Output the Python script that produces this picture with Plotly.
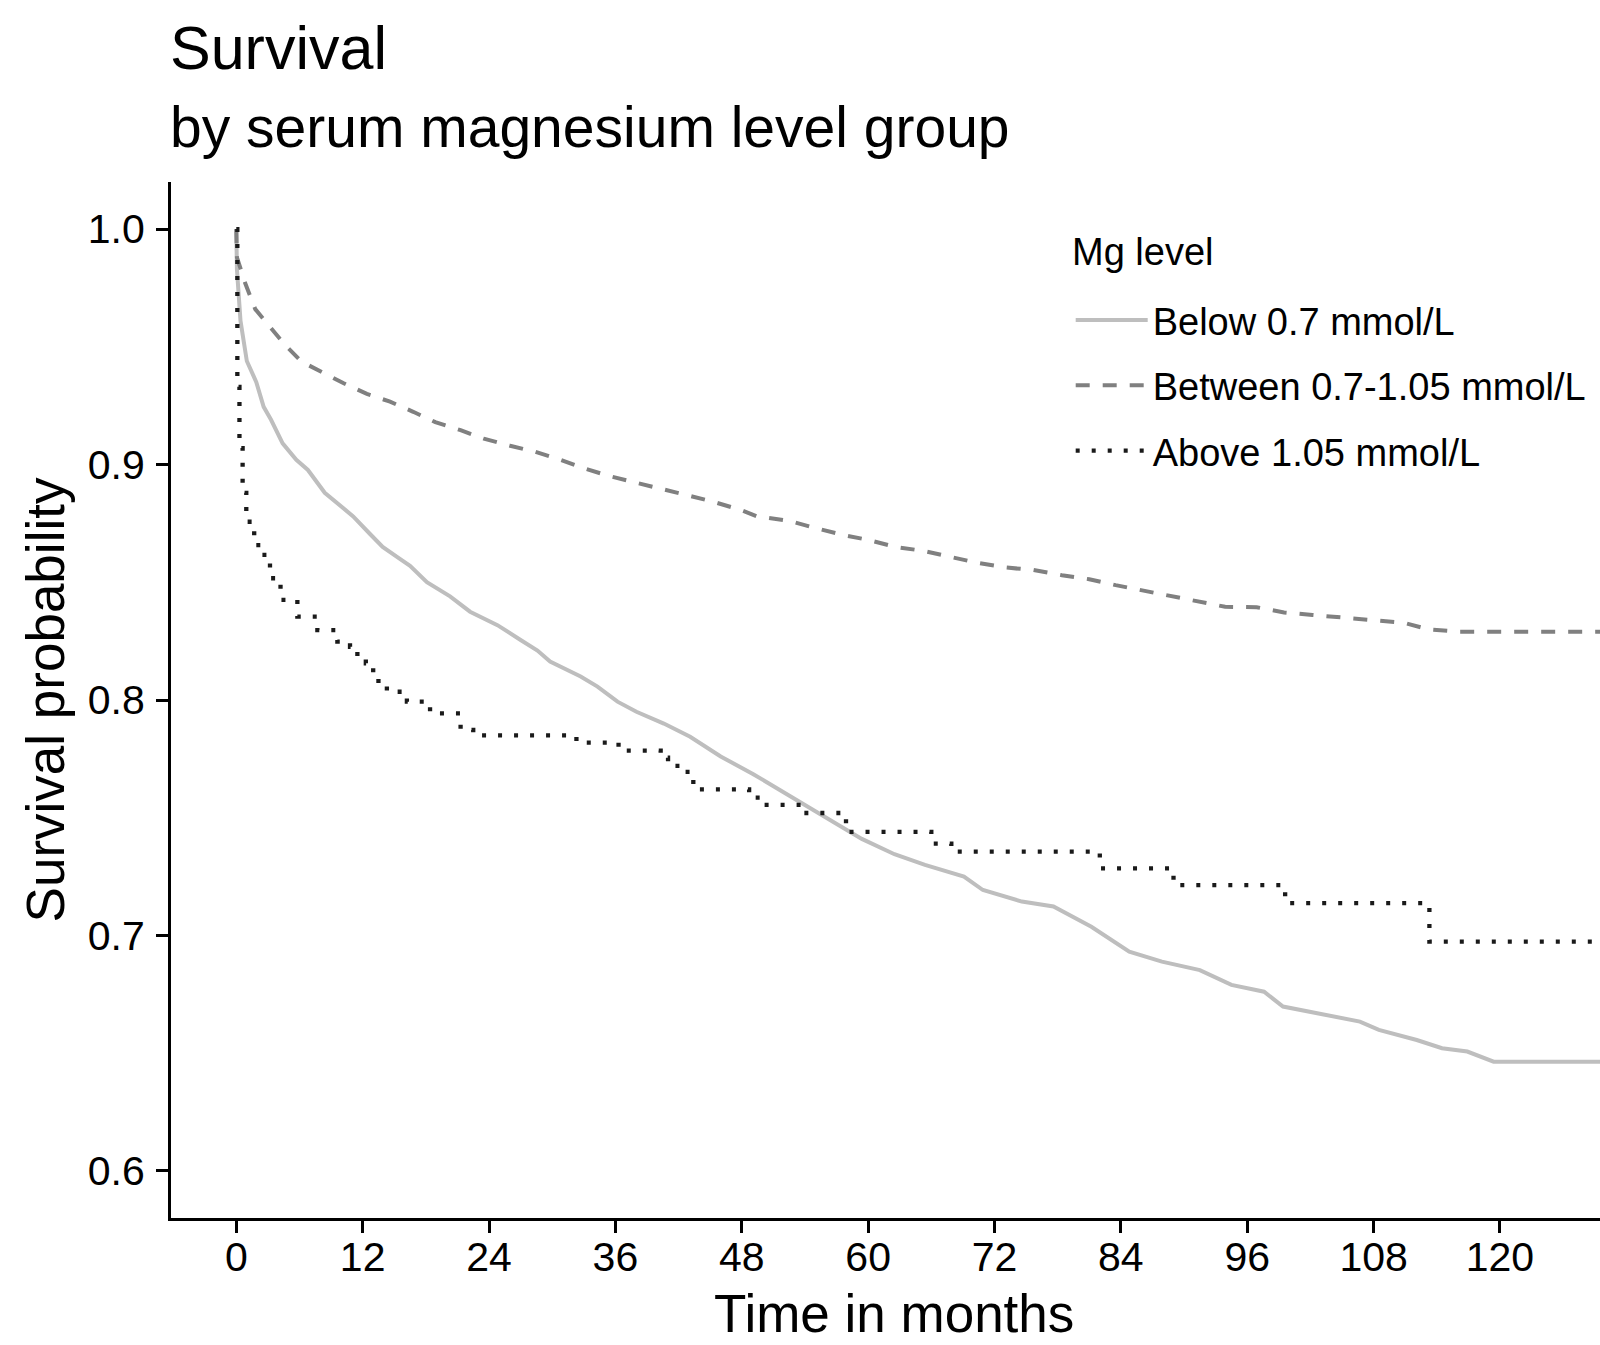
import plotly.graph_objects as go

# ---- data ----
below_t = [0, 0.06, 0.4, 1.0, 1.9, 2.6, 3.3, 4.4, 5.7, 6.8, 8.4, 9.8, 11.1, 12.7, 13.9,
           15.5, 16.5, 18.1, 20.3, 22.2, 24.8, 27.0, 28.6, 29.8, 32.7, 34.3, 36.2, 38.0, 40.6,
           43.1, 46.0, 49.1, 52.7, 56.2, 59.4, 62.5, 65.4, 69.1, 70.9, 74.6, 77.6, 81.2,
           84.8, 87.9, 91.5, 94.5, 97.6, 99.4, 103.6, 106.7, 108.5, 112.1, 114.5, 116.9,
           119.4, 131]
below_s = [1.0, 0.983, 0.961, 0.944, 0.935, 0.9245, 0.919, 0.909, 0.902, 0.8977, 0.888,
           0.8828, 0.878, 0.8705, 0.865, 0.860, 0.857, 0.850, 0.844, 0.8375, 0.8318, 0.8255,
           0.821, 0.8163, 0.810, 0.8057, 0.7993, 0.795, 0.790, 0.7844, 0.776, 0.7685, 0.759,
           0.7495, 0.741, 0.7345, 0.730, 0.725, 0.7193, 0.7144, 0.7123, 0.7037, 0.6931,
           0.6889, 0.6853, 0.679, 0.6761, 0.6698, 0.6662, 0.6634, 0.6599, 0.6556, 0.6521,
           0.6507, 0.6464, 0.6464]

between_t = [0, 0.06, 0.85, 1.8, 3.2, 4.65, 6.2, 8.3, 10.2, 12.4, 14.6, 16.8, 18.9, 21.3,
             23.5, 26.0, 28.4, 30.8, 33.0, 35.5, 37.7, 40.3, 42.8, 45.3, 47.9, 49.4, 52.6,
             55.1, 57.7, 60.0, 62.6, 65.3, 67.8, 70.3, 73.0, 75.7, 78.4, 81.0, 83.5, 86.2,
             88.7, 91.2, 93.9, 96.9, 99.5, 102.2, 105.2, 108.0, 110.9, 113.2, 116.1, 131]
between_s = [1.0, 0.988, 0.977, 0.966, 0.9585, 0.9507, 0.9437, 0.9387, 0.9345, 0.930,
             0.9267, 0.9224, 0.918, 0.9146, 0.911, 0.908, 0.9054, 0.902, 0.8984, 0.895,
             0.8927, 0.890, 0.887, 0.8842, 0.8807, 0.8781, 0.876, 0.8729, 0.870, 0.868,
             0.865, 0.8633, 0.8609, 0.8583, 0.8563, 0.8552, 0.853, 0.8513, 0.8488, 0.8464,
             0.8443, 0.8417, 0.8396, 0.8394, 0.8372, 0.8361, 0.8351, 0.834, 0.8328, 0.830,
             0.829, 0.829]

above_t = [0, 0.1, 0.3, 0.6, 0.95, 1.7, 2.4, 3.2, 4.2, 5.8, 7.7, 9.6, 10.8, 11.5, 12.3,
           13.0, 13.5, 14.3, 16.2, 18.4, 21.3, 22.5, 32.3, 36.3, 40.3, 41.0, 42.2, 43.4,
           48.7, 49.8, 53.6, 57.9, 66.0, 67.9, 82.0, 89.0, 99.6, 113.3, 131]
above_s = [1.0, 0.933, 0.907, 0.888, 0.8757, 0.8658, 0.8616, 0.8517, 0.8425, 0.8354,
           0.8297, 0.8248, 0.8226, 0.8184, 0.8156, 0.8113, 0.807, 0.8035, 0.7993, 0.7943,
           0.7873, 0.785, 0.7819, 0.7785, 0.7755, 0.772, 0.7695, 0.762, 0.7585, 0.7555,
           0.752, 0.744, 0.739, 0.7356, 0.7285, 0.7214, 0.7137, 0.6974, 0.6974]

group_names = ["Below 0.7 mmol/L", "Between 0.7-1.05 mmol/L", "Above 1.05 mmol/L"]
legend_title = "Mg level"
x_title = "Time in months"
y_title = "Survival probability"
x_ticks = [0, 12, 24, 36, 48, 60, 72, 84, 96, 108, 120]
y_ticks = [0.6, 0.7, 0.8, 0.9, 1.0]
y_tick_text = ["0.6", "0.7", "0.8", "0.9", "1.0"]

FONT = "Liberation Sans, Arial, Helvetica, sans-serif"

fig = go.Figure()
fig.add_trace(go.Scatter(x=below_t, y=below_s, mode="lines", name=group_names[0],
                         legendgroup="a",
                         line=dict(color="#BEBEBE", width=4, shape="linear")))
fig.add_trace(go.Scatter(x=between_t, y=between_s, mode="lines", name=group_names[1],
                         legendgroup="b",
                         line=dict(color="#808080", width=4, dash="14px,13px", shape="linear")))
fig.add_trace(go.Scatter(x=above_t, y=above_s, mode="lines", name=group_names[2],
                         legendgroup="c",
                         line=dict(color="#1A1A1A", width=4.3, dash="4px,12px", shape="hv")))

fig.update_layout(
    width=1600, height=1345,
    margin=dict(l=171, r=0, t=182, b=127),
    paper_bgcolor="white", plot_bgcolor="white",
    font=dict(family=FONT, color="black"),
    showlegend=True,
    legend=dict(
        font=dict(size=38, family=FONT, color="black"),
        x=0.6296, y=0.897, xanchor="left", yanchor="top",
        bgcolor="rgba(255,255,255,0)", borderwidth=0,
        itemwidth=72,
        tracegroupgap=13, traceorder="grouped",
    ),
    annotations=[
        dict(text="Survival", xref="paper", yref="paper", x=-0.002, y=1.129,
             xanchor="left", yanchor="middle", showarrow=False,
             font=dict(size=61, family=FONT, color="black")),
        dict(text="by serum magnesium level group", xref="paper", yref="paper", x=-0.002,
             y=1.0535, xanchor="left", yanchor="middle", showarrow=False,
             font=dict(size=57, family=FONT, color="black")),
        dict(text=legend_title, xref="paper", yref="paper", x=0.629, y=0.932,
             xanchor="left", yanchor="middle", showarrow=False,
             font=dict(size=38, family=FONT, color="black")),
        dict(text=x_title, xref="paper", yref="paper", x=0.506, y=-0.0925,
             xanchor="center", yanchor="middle", showarrow=False,
             font=dict(size=53, family=FONT, color="black")),
    ],
)

fig.update_xaxes(
    range=[-6.2, 129.5], tickmode="array", tickvals=x_ticks,
    ticks="outside", ticklen=12, tickwidth=3, tickcolor="black",
    showline=True, linewidth=3, linecolor="black", mirror=False,
    showgrid=False, zeroline=False,
    tickfont=dict(size=41, family=FONT, color="black"),
    ticklabelstandoff=-11,
)
fig.update_yaxes(
    range=[0.58, 1.02], tickmode="array", tickvals=y_ticks, ticktext=y_tick_text,
    ticks="outside", ticklen=12, tickwidth=3, tickcolor="black",
    showline=True, linewidth=3, linecolor="black", mirror=False,
    showgrid=False, zeroline=False,
    tickfont=dict(size=41, family=FONT, color="black"),
    ticklabelstandoff=3,
    title=dict(text=y_title, font=dict(size=53, family=FONT, color="black"), standoff=7),
)

fig.write_html("out.html",
               config={"displayModeBar": False},
               post_script="document.body.style.margin='0';document.body.style.overflow='hidden';")
